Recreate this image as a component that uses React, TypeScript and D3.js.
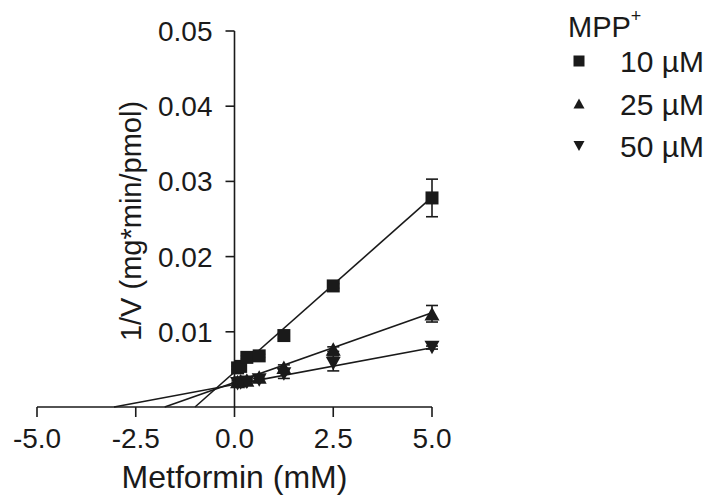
import React from 'react'
import * as d3 from 'd3'

// metformin concentrations (mM)
const metformin = [0.078, 0.156, 0.3125, 0.625, 1.25, 2.5, 5]

const seriesNames = ['10 µM', '25 µM', '50 µM']
const shapes = ['square', 'triangle', 'triangleDown']

// 1/V means
const inv10 = [0.0052, 0.0054, 0.0066, 0.0068, 0.0095, 0.0161, 0.0278]
const inv25 = [0.0034, 0.0035, 0.0036, 0.0040, 0.0053, 0.0077, 0.0124]
const inv50 = [0.0031, 0.0032, 0.0033, 0.0036, 0.0044, 0.0058, 0.0079]

// SEM
const err10 = [0.0002, 0.0002, 0.0002, 0.0002, 0.0004, 0.0003, 0.0025]
const err25 = [0.0001, 0.0001, 0.0001, 0.0002, 0.0003, 0.0003, 0.0011]
const err50 = [0.0001, 0.0001, 0.0001, 0.0002, 0.0006, 0.0010, 0.0002]

// linear fits (slope, intercept)
const fitSlopes = [0.00465, 0.00185, 0.00098]
const fitIntercepts = [0.00465, 0.00327, 0.00299]

const xTicks = [-5, -2.5, 0, 2.5, 5]
const yTicks = [0.01, 0.02, 0.03, 0.04, 0.05]

const W = 704, H = 498
const font = '"Liberation Sans", Arial, sans-serif'
const ink = '#1a1a1a'

function Marker({ shape, x, y, s }: { shape: string; x: number; y: number; s: number }) {
  if (shape === 'square') return <rect x={x - s / 2} y={y - s / 2} width={s} height={s} fill={ink} />
  const h = s * 0.9
  const p = d3.path()
  if (shape === 'triangle') {
    p.moveTo(x, y - h / 2); p.lineTo(x + s / 2, y + h / 2); p.lineTo(x - s / 2, y + h / 2)
  } else {
    p.moveTo(x, y + h / 2); p.lineTo(x + s / 2, y - h / 2); p.lineTo(x - s / 2, y - h / 2)
  }
  p.closePath()
  return <path d={p.toString()} fill={ink} />
}

// hyphen instead of unicode minus, like the original
const fmtX = (t: number) => d3.format('.1f')(t).replace('−', '-')

const App = () => {
  const x = d3.scaleLinear().domain([-5, 5]).range([37, 432])
  const y = d3.scaleLinear().domain([0, 0.05]).range([407, 31])
  const means = [inv10, inv25, inv50]
  const errs = [err10, err25, err50]

  return (
    <svg width={W} height={H} style={{ position: 'absolute', left: 0, top: 0, background: '#fff' }} fontFamily={font}>
      {/* fit lines */}
      {fitSlopes.map((m, i) => {
        const b = fitIntercepts[i]
        const x0 = -b / m
        const line = d3.line<number>().x(d => x(d)).y(d => y(m * d + b))
        return <path key={i} d={line([x0, 5]) || ''} stroke={ink} strokeWidth={1.6} fill="none" />
      })}
      {/* error bars */}
      {means.map((vals, i) => vals.map((v, j) => {
        const e = errs[i][j]
        const cx = x(metformin[j])
        return (
          <g key={`e${i}-${j}`} stroke={ink} strokeWidth={1.6}>
            <line x1={cx} x2={cx} y1={y(v - e)} y2={y(v + e)} />
            <line x1={cx - 6} x2={cx + 6} y1={y(v - e)} y2={y(v - e)} />
            <line x1={cx - 6} x2={cx + 6} y1={y(v + e)} y2={y(v + e)} />
          </g>
        )
      }))}
      {/* markers */}
      {means.map((vals, i) => vals.map((v, j) => (
        <Marker key={`m${i}-${j}`} shape={shapes[i]} x={x(metformin[j])} y={y(v)} s={i === 0 ? 13 : 15} />
      )))}
      {/* x axis */}
      <line x1={x(-5)} x2={x(5)} y1={y(0)} y2={y(0)} stroke={ink} strokeWidth={1.6} />
      {xTicks.map(t => (
        <g key={t}>
          <line x1={x(t)} x2={x(t)} y1={y(0)} y2={y(0) + 10} stroke={ink} strokeWidth={1.6} />
          <text x={x(t)} y={448} textAnchor="middle" fontSize={28} fill={ink}>{fmtX(t)}</text>
        </g>
      ))}
      <text x={x(0)} y={488} textAnchor="middle" fontSize={32} fill={ink}>Metformin (mM)</text>
      {/* y axis */}
      <line x1={x(0)} x2={x(0)} y1={y(0)} y2={y(0.05)} stroke={ink} strokeWidth={1.6} />
      {yTicks.map(t => (
        <g key={t}>
          <line x1={x(0) - 9} x2={x(0)} y1={y(t)} y2={y(t)} stroke={ink} strokeWidth={1.6} />
          <text x={x(0) - 22} y={y(t) + 10} textAnchor="end" fontSize={28} fill={ink}>{d3.format('.2f')(t)}</text>
        </g>
      ))}
      <text transform={`translate(141,221) rotate(-90)`} textAnchor="middle" fontSize={29} fill={ink}>1/V (mg*min/pmol)</text>
      {/* legend */}
      <text x={568} y={37} fontSize={29} fill={ink}>MPP<tspan fontSize={18} dy={-15}>+</tspan></text>
      {seriesNames.map((n, i) => (
        <g key={n}>
          <Marker shape={shapes[i]} x={579} y={61 + i * 42.5} s={11} />
          <text x={620} y={72 + i * 42.5} fontSize={30} fill={ink}>{n}</text>
        </g>
      ))}
    </svg>
  )
}

export default App
